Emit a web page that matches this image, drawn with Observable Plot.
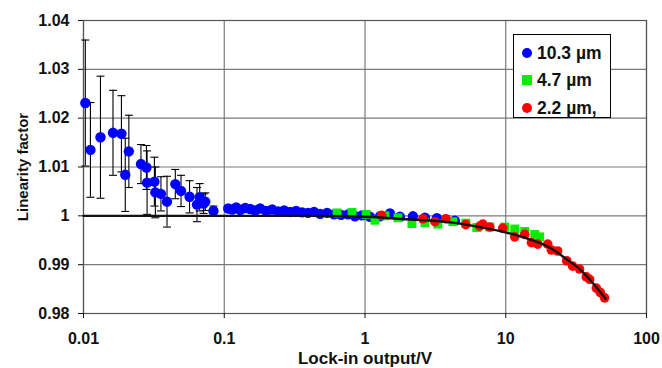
<!DOCTYPE html>
<html>
<head>
<meta charset="utf-8">
<script src="https://cdn.jsdelivr.net/npm/d3@7"></script>
<script src="https://cdn.jsdelivr.net/npm/@observablehq/plot@0.6"></script>
<style>
  html, body { margin: 0; padding: 0; background: #fff; }
  #wrap { position: relative; width: 662px; height: 368px; font-family: "Liberation Sans", Arial, sans-serif; font-weight: bold; }
  #legend { position: absolute; left: 513px; top: 34px; width: 98px; height: 84px; border: 1px solid #000; background: #fff; box-sizing: border-box; }
  #legend .row { position: absolute; left: 0; height: 20px; line-height: 20px; font-size: 17.5px; color: #111; white-space: nowrap; }
  #legend .mk { position: absolute; left: 8px; top: 5px; width: 10px; height: 10px; }
  #legend .tx { position: absolute; left: 23px; top: 0; }
  svg text { font-weight: bold; }
</style>
</head>
<body>
<div id="wrap"></div>
<script>
// ---- data ----
const xTicks = [0.01, 0.1, 1, 10, 100];
const yTicks = [0.98, 0.99, 1, 1.01, 1.02, 1.03, 1.04];
const seriesNames = ["10.3 µm", "4.7 µm", "2.2 µm,"];
const seriesColors = ["#0000ff", "#00ee00", "#ff0000"];

// 10.3 µm (blue) with error bars
const blueX = [0.0103, 0.0112, 0.0132, 0.0162, 0.0186, 0.0198, 0.0210, 0.0256, 0.0280, 0.0283, 0.0319, 0.0324,
  0.0355, 0.0392, 0.0449, 0.0493, 0.0567, 0.0640, 0.0669, 0.0713, 0.0733, 0.0838,
  0.1067, 0.1140, 0.1217, 0.1299, 0.1409, 0.1529, 0.1660, 0.1800, 0.1986, 0.2190, 0.2415, 0.2665,
  0.2938, 0.3241, 0.3575, 0.3942, 0.4348, 0.4797, 0.5378, 0.6029, 0.6759, 0.7576, 0.8494, 0.9522,
  1.085, 1.277, 1.504, 1.771, 2.190, 2.665, 3.241, 4.348];
const blueY = [1.0231, 1.0135, 1.0161, 1.0170, 1.0168, 1.0084, 1.0132, 1.0106, 1.0099, 1.0068, 1.0070, 1.0048,
  1.0045, 1.0029, 1.0065, 1.0051, 1.0039, 1.0023, 1.0038, 1.0025, 1.0029, 1.0010,
  1.0015, 1.0013, 1.0017, 1.0012, 1.0016, 1.0014, 1.0011, 1.0015, 1.0010, 1.0013, 1.0009, 1.0011,
  1.0008, 1.0010, 1.0007, 1.0006, 1.0008, 1.0004, 1.0006, 1.0003, 1.0002, 1.0003, 0.9999, 1.0001,
  0.9998, 0.9999, 1.0005, 0.9998, 0.9999, 0.9996, 0.9995, 0.9990];
const blueErr = [0.0129, 0.0097, 0.0125, 0.0087, 0.0078, 0.0075, 0.0074, 0.0040, 0.0045, 0.0065, 0.0050, 0.0052,
  0.0035, 0.0052, 0.0030, 0.0032, 0.0033, 0.0035, 0.0028, 0.0020, 0.0018, 0.0010,
  0.0006, 0.0006, 0.0005, 0.0005, 0.0005, 0.0005, 0.0004, 0.0004, 0.0004, 0.0004, 0.0003, 0.0003,
  0.0003, 0.0003, 0.0003, 0.0002, 0.0002, 0, 0, 0, 0, 0, 0, 0,
  0, 0, 0, 0, 0, 0, 0, 0];

// 4.7 µm (green squares)
const greenX = [0.6331, 0.8089, 1.017, 1.177, 1.386, 1.714, 2.154, 2.665, 3.294, 4.209, 5.203, 6.228, 7.701, 9.838, 11.58, 13.64, 16.06, 17.42];
const greenY = [1.0006, 1.0007, 1.0003, 0.9991, 1.0000, 0.9996, 0.9984, 0.9986, 0.9983, 0.9988, 0.9985, 0.9976, 0.9977, 0.9977, 0.9973, 0.9968, 0.9962, 0.9957];

// 2.2 µm (red circles)
const redX = [1.313, 2.578, 3.137, 3.753, 5.203, 6.541, 6.868, 7.701, 9.522, 11.58, 13.64, 15.22, 16.87, 19.86, 21.09, 23.38, 27.08, 29.87, 33.48, 37.35, 39.42, 43.99, 46.95, 50.37];
const redY = [1.0001, 0.9994, 0.9988, 0.9994, 0.9982, 0.9979, 0.9983, 0.9977, 0.9975, 0.9957, 0.9962, 0.9945, 0.9942, 0.9942, 0.9930, 0.9928, 0.9908, 0.9897, 0.9891, 0.9875, 0.9870, 0.9852, 0.9843, 0.9832];

// fitted curve (black)
const fitX = [0.01, 0.1, 0.5, 1.0, 1.976, 4.21, 6.54, 9.06, 14.8, 20.5, 27.1, 33.5, 41.4, 51.2];
const fitY = [1.0000, 1.0000, 1.0000, 0.9998, 0.9993, 0.9986, 0.9977, 0.9969, 0.9952, 0.9935, 0.9911, 0.9891, 0.9863, 0.9830];

// ---- tables ----
const blue = blueX.map((x, i) => ({x, y: blueY[i], e: blueErr[i]}));
const blueE = blue.filter(d => d.e > 0);
const green = greenX.map((x, i) => ({x, y: greenY[i]}));
const red = redX.map((x, i) => ({x, y: redY[i]}));
const fit = fitX.map((x, i) => ({x, y: fitY[i]}));
const capF = Math.pow(10, 4 / 141);

const chart = Plot.plot({
  width: 662,
  height: 368,
  marginLeft: 83,
  marginRight: 16,
  marginTop: 20,
  marginBottom: 55,
  style: {fontFamily: "'Liberation Sans', Arial, sans-serif", fontSize: "16px", fontWeight: "bold", color: "#111", background: "#fff"},
  x: {type: "log", domain: [0.01, 100]},
  y: {domain: [0.98, 1.04]},
  marks: [
    Plot.gridX(xTicks, {stroke: "#7a7a7a", strokeOpacity: 1, strokeWidth: 1.2}),
    Plot.gridY(yTicks, {stroke: "#7a7a7a", strokeOpacity: 1, strokeWidth: 1.2}),
    Plot.frame({stroke: "#555", strokeWidth: 1.2}),
    Plot.axisX(xTicks, {tickFormat: d => String(d), tickSize: 5, tickPadding: 14, fontSize: 16, label: null}),
    Plot.axisX({ticks: [], label: "Lock-in output/V", labelAnchor: "center", labelArrow: "none", labelOffset: 50, fontSize: 17}),
    Plot.axisY(yTicks, {tickFormat: d => String(d), tickSize: 5, tickPadding: 9, fontSize: 16, label: null}),
    Plot.axisY({ticks: [], label: "Linearity factor", labelAnchor: "center", labelArrow: "none", labelOffset: 66, fontSize: 15}),
    Plot.ruleX(blueE, {x: "x", y1: d => d.y - d.e, y2: d => d.y + d.e, stroke: "#000", strokeWidth: 1.1}),
    Plot.link(blueE, {x1: d => d.x / capF, x2: d => d.x * capF, y1: d => d.y + d.e, y2: d => d.y + d.e, stroke: "#000", strokeWidth: 1.1}),
    Plot.link(blueE, {x1: d => d.x / capF, x2: d => d.x * capF, y1: d => d.y - d.e, y2: d => d.y - d.e, stroke: "#000", strokeWidth: 1.1}),
    Plot.dot(blue, {x: "x", y: "y", r: 5.2, fill: seriesColors[0]}),
    Plot.dot(green, {x: "x", y: "y", r: 5, symbol: "square", fill: seriesColors[1]}),
    Plot.dot(red, {x: "x", y: "y", r: 4.8, fill: seriesColors[2]}),
    Plot.line(fit, {x: "x", y: "y", curve: "monotone-x", stroke: "#111", strokeWidth: 2.4})
  ]
});

const wrap = document.getElementById("wrap");
wrap.appendChild(chart);

// legend
const legend = document.createElement("div");
legend.id = "legend";
const rowTops = [8, 35, 63];
seriesNames.forEach((name, i) => {
  const row = document.createElement("div");
  row.className = "row";
  row.style.top = rowTops[i] + "px";
  const mk = document.createElement("div");
  mk.className = "mk";
  mk.style.background = seriesColors[i];
  if (i !== 1) mk.style.borderRadius = "50%";
  const tx = document.createElement("span");
  tx.className = "tx";
  tx.textContent = name;
  row.appendChild(mk);
  row.appendChild(tx);
  legend.appendChild(row);
});
wrap.appendChild(legend);
</script>
</body>
</html>
